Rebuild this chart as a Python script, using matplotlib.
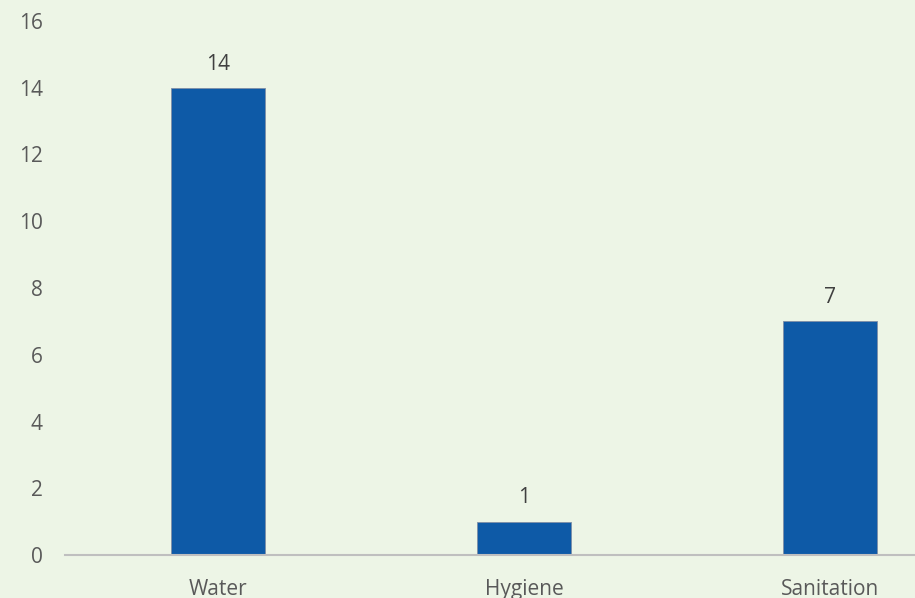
import matplotlib.pyplot as plt

categories = ["Water", "Hygiene", "Sanitation"]
values = [14, 1, 7]
yticks = [0, 2, 4, 6, 8, 10, 12, 14, 16]

bg = "#EDF5E6"
bar_color = "#0E5AA7"
text_color = "#595959"

plt.rcParams['font.family'] = ['Open Sans', 'DejaVu Sans']

fig = plt.figure(figsize=(9.15, 5.98), dpi=100, facecolor=bg)
# axes runs past the right edge, as in the cropped original
ax = fig.add_axes([65 / 915, 43 / 598, 918 / 915, 534 / 598], facecolor=bg)

x = range(len(categories))
bars = ax.bar(x, values, width=0.31, color=bar_color, edgecolor="#7f8fa6", linewidth=0.6, zorder=3)
ax.bar_label(bars, labels=[str(v) for v in values], padding=9.5, fontsize=15, color="#404040")

ax.set_xlim(-0.5, 2.5)
ax.set_ylim(0, 16)
ax.set_xticks(list(x))
ax.set_xticklabels(categories)
ax.set_yticks(yticks)

ax.tick_params(axis='both', length=0, labelsize=15, colors=text_color)
ax.tick_params(axis='x', pad=17)
ax.tick_params(axis='y', pad=16)

for side in ['top', 'right', 'left']:
    ax.spines[side].set_visible(False)
ax.spines['bottom'].set_color("#BFBFBF")
ax.spines['bottom'].set_linewidth(1.5)
ax.spines['bottom'].set_zorder(4)

fig.savefig("out.png", dpi=100, facecolor=bg)
